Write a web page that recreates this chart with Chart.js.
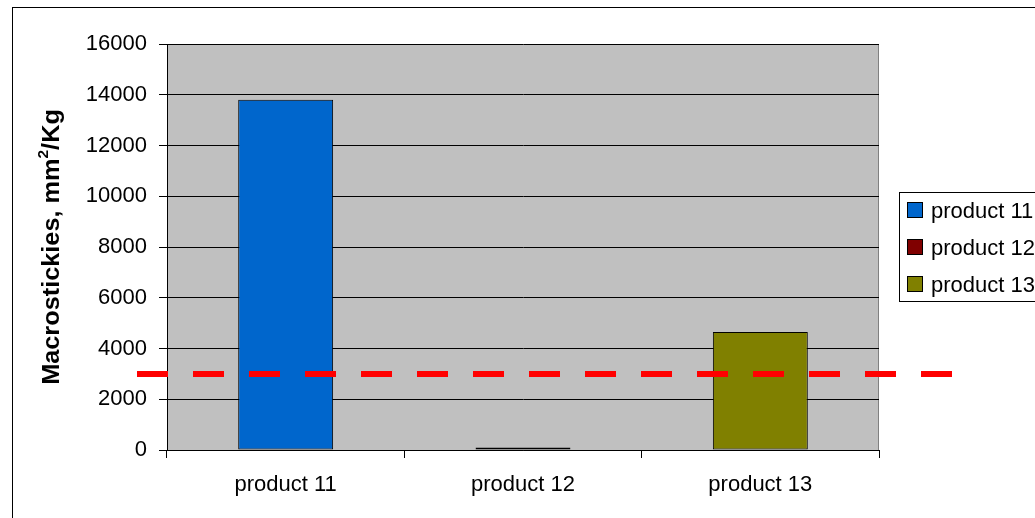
<!DOCTYPE html>
<html>
<head>
<meta charset="utf-8">
<script src="https://cdn.jsdelivr.net/npm/chart.js@4/dist/chart.umd.min.js"></script>
<style>
  html, body { margin: 0; padding: 0; background: #fff; }
  #wrap { width: 1035px; height: 518px; position: relative; }
</style>
</head>
<body>
<div id="wrap"><canvas id="c" width="1035" height="518"></canvas></div>
<script>
// Macrostickies per product, mm²/Kg
const categories = ['product 11', 'product 12', 'product 13'];
const values = [13800, 100, 4650];
const limitValue = 3000;           // red dashed reference level
const yMin = 0, yMax = 16000, yStep = 2000;

const barColors = ['#0066CC', '#800000', '#808000'];
const FONT = '"Liberation Sans", Arial, Helvetica, sans-serif';

const decorations = {
  id: 'decorations',
  beforeDraw(chart) {
    const { ctx, chartArea: a } = chart;
    ctx.save();
    ctx.fillStyle = '#fff';
    ctx.fillRect(0, 0, chart.width, chart.height);
    // outer frame
    ctx.strokeStyle = '#000';
    ctx.lineWidth = 1;
    ctx.strokeRect(12.5, 7.5, chart.width + 20, chart.height + 20);
    // plot background
    ctx.fillStyle = '#C0C0C0';
    ctx.fillRect(a.left, a.top, a.right - a.left, a.bottom - a.top);
    // plot frame, right side
    ctx.strokeStyle = '#808080';
    ctx.beginPath();
    ctx.moveTo(Math.round(a.right) - 0.5, a.top);
    ctx.lineTo(Math.round(a.right) - 0.5, a.bottom);
    ctx.stroke();
    ctx.restore();
  },
  afterDatasetsDraw(chart) {
    const { ctx, scales } = chart;
    const y = scales.y.getPixelForValue(limitValue);
    ctx.save();
    ctx.strokeStyle = '#FF0000';
    ctx.lineWidth = 6;
    ctx.lineCap = 'butt';
    ctx.setLineDash([31, 25]);
    ctx.beginPath();
    ctx.moveTo(137, y);
    ctx.lineTo(953, y);
    ctx.stroke();
    ctx.restore();
  },
  afterDraw(chart) {
    const { ctx, chartArea: a } = chart;
    ctx.save();
    // y axis title with superscript
    const big = 'bold 23px ' + FONT;
    const small = 'bold 14px ' + FONT;
    const p1 = 'Macrostickies, mm', p2 = '2', p3 = '/Kg';
    ctx.font = big; const w1 = ctx.measureText(p1).width, w3 = ctx.measureText(p3).width;
    ctx.font = small; const w2 = ctx.measureText(p2).width;
    const total = w1 + w2 + w3;
    ctx.translate(53, (a.top + a.bottom) / 2);
    ctx.rotate(-Math.PI / 2);
    ctx.scale(1.1, 1);
    ctx.fillStyle = '#000';
    ctx.textBaseline = 'middle';
    ctx.textAlign = 'left';
    let x = -total / 2;
    ctx.font = big; ctx.fillText(p1, x, 0); x += w1;
    ctx.font = small; ctx.fillText(p2, x, -9); x += w2;
    ctx.font = big; ctx.fillText(p3, x, 0);
    ctx.restore();

    // legend
    ctx.save();
    ctx.fillStyle = '#fff';
    ctx.strokeStyle = '#000';
    ctx.lineWidth = 1;
    ctx.fillRect(899.5, 192.5, 200, 109);
    ctx.strokeRect(899.5, 192.5, 200, 109);
    ctx.font = '22px ' + FONT;
    ctx.textBaseline = 'middle';
    categories.forEach((name, i) => {
      const cy = 211 + i * 37;
      ctx.fillStyle = barColors[i];
      ctx.fillRect(907.5, cy - 8.5, 15, 15);
      ctx.strokeStyle = '#000';
      ctx.strokeRect(907.5, cy - 8.5, 15, 15);
      ctx.fillStyle = '#000';
      ctx.fillText(name, 931, cy + 1);
    });
    ctx.restore();
  }
};

new Chart(document.getElementById('c'), {
  type: 'bar',
  data: {
    labels: categories,
    datasets: [{
      data: values,
      backgroundColor: barColors,
      borderColor: '#000',
      borderWidth: 1,
      borderSkipped: false,
      barPercentage: 0.4,
      categoryPercentage: 1
    }]
  },
  options: {
    responsive: false,
    animation: false,
    devicePixelRatio: 1,
    layout: { padding: { top: 44, right: 156, bottom: 0, left: 0 } },
    plugins: { legend: { display: false }, tooltip: { enabled: false } },
    scales: {
      x: {
        grid: { offset: true, drawOnChartArea: false, color: '#000', tickLength: 8, tickColor: '#000' },
        border: { color: '#000' },
        ticks: { color: '#000', font: { family: FONT, size: 22 }, padding: 14, maxRotation: 0 },
        afterFit(s) { s.height = 68; }
      },
      y: {
        min: yMin, max: yMax,
        grid: { color: '#000', tickLength: 8, tickColor: '#000' },
        border: { color: '#000' },
        ticks: {
          stepSize: yStep, color: '#000', font: { family: FONT, size: 22 }, padding: 12,
          callback: (v) => String(v)
        },
        afterFit(s) { s.width = 167; }
      }
    }
  },
  plugins: [decorations]
});
</script>
</body>
</html>
